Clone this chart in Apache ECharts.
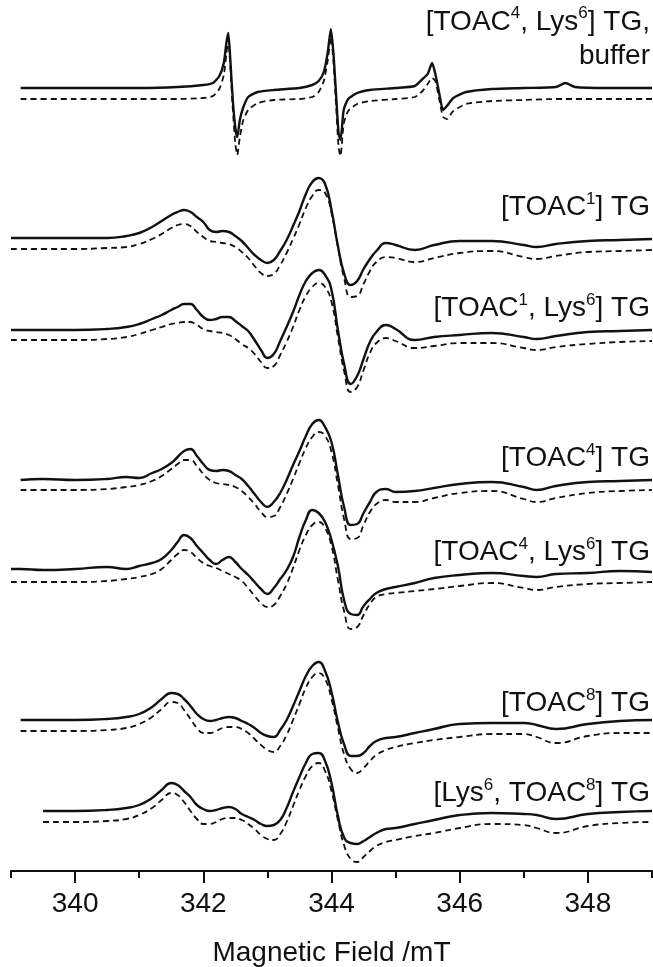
<!DOCTYPE html>
<html>
<head>
<meta charset="utf-8">
<script src="https://cdn.jsdelivr.net/npm/echarts@6/dist/echarts.min.js"></script>
<style>
  html, body { margin: 0; padding: 0; background: #ffffff; }
  #chart { width: 653px; height: 967px; }
</style>
</head>
<body>
<div id="chart"></div>
<script>
// Magnetic field grid (mT) shared by the broad spectra
const FIELD = [
  339.0, 339.15, 339.5, 340.0, 340.5, 340.8, 341.0, 341.2, 341.35,
  341.5, 341.6, 341.7, 341.8, 341.9, 342.0, 342.1, 342.2, 342.3,
  342.4, 342.5, 342.6, 342.7, 342.8, 342.9, 343.0, 343.1, 343.2,
  343.3, 343.4, 343.5, 343.6, 343.7, 343.8, 343.9, 344.0, 344.1,
  344.2, 344.3, 344.4, 344.5, 344.6, 344.7, 344.85, 345.0, 345.3,
  345.6, 346.0, 346.5, 347.0, 347.2, 347.5, 348.0, 348.5, 349.0
];

// Field grid for the sharp three-line spectrum in buffer
const FIELD_BUFFER = [
  339.15, 340.0, 341.0, 341.6, 342.0, 342.15, 342.25, 342.32, 342.36, 342.39,
  342.42, 342.46, 342.5, 342.53, 342.57, 342.62, 342.7, 342.85, 343.1, 343.5,
  343.7, 343.8, 343.88, 343.94, 343.99, 344.03, 344.07, 344.11, 344.14, 344.19,
  344.26, 344.4, 344.6, 345.0, 345.3, 345.42, 345.5, 345.57, 345.62, 345.68,
  345.74, 345.8, 345.9, 346.1, 346.5, 347.0, 347.5, 347.65, 347.8, 348.3, 349.0
];

// First-derivative EPR intensities (a.u.), experimental (exp) and simulated (sim)
const EXP_BUFFER = [
  0, 0, 0, 1, 3, 5, 12, 25, 45, 55,
  30, -12, -40, -49, -32, -20, -9, -4, -2, 0,
  3, 7, 16, 35, 59, 35, -5, -45, -52, -22,
  -11, -5, -2, 0, 2, 9, 14, 25, 14, -5,
  -22, -18, -10, -4, -1, 0, 1, 5, 1, 0, 0
];
const SIM_BUFFER = [
  0, 0, 0, 0, 1, 3, 10, 24, 45, 60,
  35, -10, -45, -56, -38, -22, -11, -4, -1, 0,
  2, 7, 18, 38, 62, 38, -5, -48, -57, -25,
  -12, -5, -2, 0, 2, 8, 15, 21, 18, 0,
  -18, -20, -12, -5, -2, -1, 0, 0, 0, 0, 0
];

const EXP_TOAC1 = [
  0, 0, 0, 0, 0, 2, 5, 11, 17,
  23, 26, 28, 26, 21, 16, 8, 6, 7,
  6, 2, -3, -10, -17, -22, -25, -22, -13,
  -2, 12, 27, 44, 56, 60, 54, 28, -8,
  -36, -47, -43, -31, -21, -13, -5, -7, -12,
  -7, -3, -3, -7, -9, -6, -3, -2, -1
];
const SIM_TOAC1 = [
  0, 0, 0, 0, 1, 2, 5, 10, 15,
  21, 24, 25, 23, 17, 12, 8, 7, 6,
  5, 2, -3, -9, -17, -24, -27, -25, -16,
  -4, 10, 25, 41, 53, 59, 56, 36, 2,
  -30, -48, -47, -35, -22, -13, -8, -9, -13,
  -9, -4, -2, -8, -10, -7, -3, -2, -1
];

const EXP_TOAC1_LYS6 = [
  0, 0, 0, 0, 1, 3, 6, 11, 15,
  20, 23, 26, 26, 20, 13, 10, 11, 13,
  13, 9, 4, -1, -10, -20, -28, -24, -11,
  3, 18, 35, 49, 57, 60, 55, 40, 0,
  -35, -54, -46, -29, -12, -2, 5, 1, -10,
  -7, -5, -3, -7, -9, -6, -2, -1, 0
];
const SIM_TOAC1_LYS6 = [
  0, 0, 0, 0, 1, 3, 6, 10, 13,
  16, 17, 18, 18, 15, 11, 9, 8, 7,
  5, 1, -4, -8, -14, -22, -28, -26, -15,
  -2, 13, 30, 44, 53, 57, 53, 38, 3,
  -32, -52, -47, -30, -13, -3, 2, -1, -8,
  -6, -3, -3, -8, -10, -7, -4, -2, -1
];

const EXP_TOAC4 = [
  null, 0, 1, 0, 1, 3, 2, 7, 11,
  17, 23, 29, 31, 24, 16, 10, 9, 10,
  9, 5, 1, -6, -14, -22, -27, -22, -13,
  0, 15, 29, 44, 56, 60, 53, 38, 5,
  -28, -45, -44, -33, -22, -12, -9, -12, -11,
  -8, -4, -2, -7, -10, -6, -2, -1, 0
];
const SIM_TOAC4 = [
  null, 0, 0, 0, 1, 3, 5, 9, 14,
  21, 26, 30, 30, 24, 16, 10, 7, 6,
  5, 3, -1, -7, -14, -22, -27, -26, -17,
  -4, 11, 27, 42, 53, 58, 54, 38, 5,
  -30, -49, -48, -35, -22, -14, -10, -12, -12,
  -8, -3, -1, -9, -12, -8, -3, -1, 0
];

const EXP_TOAC4_LYS6 = [
  -1, -1, -2, -1, 1, -1, 2, 5, 9,
  18, 26, 33, 30, 22, 15, 8, 4, 8,
  11, 6, -1, -7, -14, -21, -26, -20, -11,
  -2, 11, 31, 48, 58, 55, 46, 28, 2,
  -33, -46, -47, -38, -31, -25, -21, -19, -15,
  -10, -7, -5, -8, -9, -6, -5, -3, -4
];
const SIM_TOAC4_LYS6 = [
  0, 0, 0, 0, 1, 3, 5, 8, 13,
  22, 28, 32, 30, 24, 19, 16, 14, 11,
  8, 5, 1, -6, -14, -21, -25, -23, -14,
  -2, 14, 32, 47, 57, 60, 54, 36, 2,
  -30, -47, -45, -33, -22, -15, -12, -11, -9,
  -7, -4, -1, -6, -8, -5, -2, -1, 0
];

const EXP_TOAC8 = [
  null, 0, 0, 0, 1, 3, 6, 13, 21,
  27, 26, 21, 14, 6, 1, -1, 0, 2,
  3, 2, -1, -4, -8, -13, -16, -17, -10,
  0, 14, 29, 44, 54, 58, 49, 28, -2,
  -25, -36, -36, -33, -26, -21, -18, -17, -13,
  -9, -4, -3, -3, -5, -9, -4, -1, 0
];
const SIM_TOAC8 = [
  null, 0, 0, 0, 1, 3, 7, 14, 22,
  29, 28, 21, 12, 3, -2, -2, 0, 3,
  4, 4, 2, -2, -8, -14, -19, -21, -15,
  -4, 11, 27, 43, 54, 58, 52, 32, 3,
  -24, -38, -42, -37, -30, -24, -19, -16, -12,
  -9, -6, -3, -3, -6, -12, -5, -2, -2
];

const EXP_LYS6_TOAC8 = [
  null, null, 0, 0, 1, 3, 6, 13, 21,
  28, 26, 20, 14, 6, 2, 0, 1, 3,
  4, 2, -3, -6, -9, -13, -15, -14, -9,
  3, 19, 34, 48, 57, 58, 50, 28, -5,
  -27, -32, -33, -30, -26, -22, -18, -17, -13,
  -9, -4, -2, -3, -4, -8, -3, -1, 0
];
const SIM_LYS6_TOAC8 = [
  null, null, 0, 0, 1, 3, 7, 14, 22,
  29, 27, 20, 11, 3, -2, -2, 0, 3,
  4, 4, 2, -2, -7, -13, -17, -18, -12,
  0, 16, 32, 46, 56, 59, 51, 31, 2,
  -24, -37, -40, -35, -29, -24, -20, -18, -14,
  -11, -6, -2, -3, -6, -11, -4, -1, 0
];

// Vertical stacking offsets (a.u.), top spectrum first
const OFFSET_EXP = [783, 633, 541, 391, 303, 151, 60];
const OFFSET_SIM = [772, 622, 531, 381, 289, 140, 49];

// Spectrum captions ({s|...} = superscript)
const LABELS = [
  '[TOAC{s|4}, Lys{s|6}] TG,\nbuffer',
  '[TOAC{s|1}] TG',
  '[TOAC{s|1}, Lys{s|6}] TG',
  '[TOAC{s|4}] TG',
  '[TOAC{s|4}, Lys{s|6}] TG',
  '[TOAC{s|8}] TG',
  '[Lys{s|6}, TOAC{s|8}] TG'
];

// Axis ticks (mT)
const TICKS_MAJOR = [340, 342, 344, 346, 348];
const TICKS_MINOR = [339, 341, 343, 345, 347, 349];

const SPECTRA = [
  { field: FIELD_BUFFER, exp: EXP_BUFFER, sim: SIM_BUFFER, smooth: 0.2 },
  { field: FIELD, exp: EXP_TOAC1, sim: SIM_TOAC1 },
  { field: FIELD, exp: EXP_TOAC1_LYS6, sim: SIM_TOAC1_LYS6 },
  { field: FIELD, exp: EXP_TOAC4, sim: SIM_TOAC4 },
  { field: FIELD, exp: EXP_TOAC4_LYS6, sim: SIM_TOAC4_LYS6 },
  { field: FIELD, exp: EXP_TOAC8, sim: SIM_TOAC8 },
  { field: FIELD, exp: EXP_LYS6_TOAC8, sim: SIM_LYS6_TOAC8 }
];

const FONT = '"Liberation Sans", Arial, Helvetica, sans-serif';
const INK = '#111111';

function toPairs(field, values, offset) {
  const out = [];
  for (let i = 0; i < field.length; i++) {
    if (values[i] === null) continue;
    out.push([field[i], offset + values[i]]);
  }
  return out;
}

const series = [];
SPECTRA.forEach((s, k) => {
  const smooth = s.smooth !== undefined ? s.smooth : 0.5;
  series.push({
    type: 'line',
    data: toPairs(s.field, s.exp, OFFSET_EXP[k]),
    showSymbol: false,
    smooth: smooth,
    silent: true,
    lineStyle: { color: INK, width: 2.4, join: 'round' }
  });
  series.push({
    type: 'line',
    data: toPairs(s.field, s.sim, OFFSET_SIM[k]),
    showSymbol: false,
    smooth: smooth,
    silent: true,
    lineStyle: { color: INK, width: 1.8, type: [6, 4] }
  });
});

// Caption placement: top of each caption box (px)
const LABEL_TOP = [5, 191, 292, 442, 536, 687, 777];

const graphic = LABELS.map((text, k) => ({
  type: 'text',
  right: 3,
  top: LABEL_TOP[k],
  silent: true,
  style: {
    text: text,
    fill: INK,
    fontFamily: FONT,
    fontSize: 28,
    lineHeight: k === 0 ? 34 : 32,
    textAlign: 'right',
    align: 'right',
    rich: {
      s: { fontSize: 17, lineHeight: 18, verticalAlign: 'top', fontFamily: FONT, fill: INK }
    }
  }
}));

const chart = echarts.init(document.getElementById('chart'), null, { renderer: 'canvas' });
chart.setOption({
  animation: false,
  backgroundColor: '#ffffff',
  grid: { left: 11, right: 1, top: 0, bottom: 96, containLabel: false, outerBoundsMode: 'none' },
  xAxis: [
    {
      type: 'value',
      min: 339,
      max: 349,
      position: 'bottom',
      axisLine: { lineStyle: { color: INK, width: 2 } },
      axisTick: { customValues: TICKS_MAJOR, length: 12, lineStyle: { color: INK, width: 2 } },
      axisLabel: { customValues: TICKS_MAJOR, fontSize: 28, color: INK, fontFamily: FONT, margin: 19 },
      splitLine: { show: false },
      name: 'Magnetic Field /mT',
      nameLocation: 'middle',
      nameGap: 68,
      nameTextStyle: { fontSize: 28, color: INK, fontFamily: FONT }
    },
    {
      type: 'value',
      min: 339,
      max: 349,
      position: 'bottom',
      axisLine: { show: false },
      axisTick: { customValues: TICKS_MINOR, length: 7, lineStyle: { color: INK, width: 2 } },
      axisLabel: { show: false },
      splitLine: { show: false }
    }
  ],
  yAxis: { type: 'value', min: 0, max: 871, show: false },
  series: series,
  graphic: graphic
});
</script>
</body>
</html>
